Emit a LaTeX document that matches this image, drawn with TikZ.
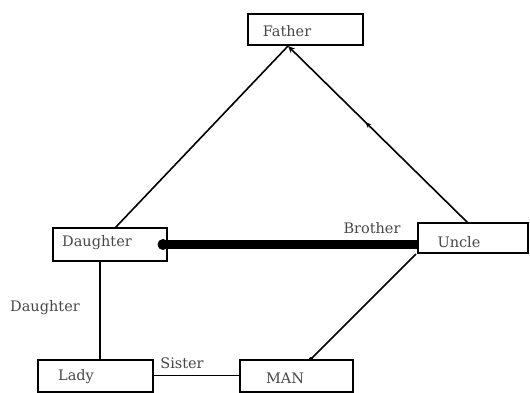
\documentclass[tikz,border=0pt]{standalone}
\usepackage{fontspec}
\setmainfont{DejaVu Serif}
\usetikzlibrary{arrows.meta,decorations.markings}
\begin{document}
\begin{tikzpicture}[x=1pt,y=-1pt,
  box/.style={draw=black,line width=2pt,minimum width=#1,minimum height=31pt,inner sep=0pt,anchor=center},
  lbl/.style={font=\fontsize{14.5}{16}\selectfont,text=black!72,inner sep=0pt,anchor=center},
  conn/.style={line width=1.6pt,draw=black}]
\useasboundingbox (0,0) rectangle (530,392);
% boxes
\node[box=115pt] (father) at (305,29.5) {};
\node[box=114pt,minimum height=33pt] (daughter) at (110,244.5) {};
\node[box=110pt,minimum height=30pt] (uncle) at (473,238) {};
\node[box=115pt,minimum height=32pt] (lady) at (95.5,375.5) {};
\node[box=113pt,minimum height=32pt] (man) at (296.5,375.5) {};
% box texts
\node[lbl] (tfather) at (287,31) {Father};
\node[lbl] (tdaughter) at (97,243) {Daughter};
\node[lbl] (tuncle) at (459,242) {Uncle};
\node[lbl] (tlady) at (76,377) {Lady};
\node[lbl] (tman) at (285,378) {MAN};
% edge labels
\node[lbl] (lbrother) at (372,228) {Brother};
\node[lbl] (ldaughter) at (45,308) {Daughter};
\node[lbl] (lsister) at (182,363) {Sister};
% coordinates
\coordinate (ftip) at (288,46);
\coordinate (dtop) at (115,228);
\coordinate (utop) at (468,223);
\coordinate (dbot) at (100,261);
\coordinate (ltop) at (100,359.5);
\coordinate (ubl) at (416,254);
\coordinate (mtop) at (311,359);
\coordinate (dstart) at (163,244.5);
\coordinate (uend) at (uncle.west |- dstart);
% connectors
\draw[conn] (dtop) -- (ftip);
\draw[conn,-{Stealth[length=7pt,width=6pt]},
  decoration={markings,mark=at position 0.57 with {\arrow{Stealth[length=6pt,width=5pt]}}},postaction={decorate}]
  (utop) -- (ftip);
\draw[conn] (dbot) -- (ltop);
\draw[conn] (lady.east) -- (man.west);
\draw[conn] (ubl) -- (mtop);
\fill (mtop) circle (2pt);
\draw[line width=9pt] (dstart) -- (uend);
\fill (dstart) circle (5.5pt);
\end{tikzpicture}
\end{document}
